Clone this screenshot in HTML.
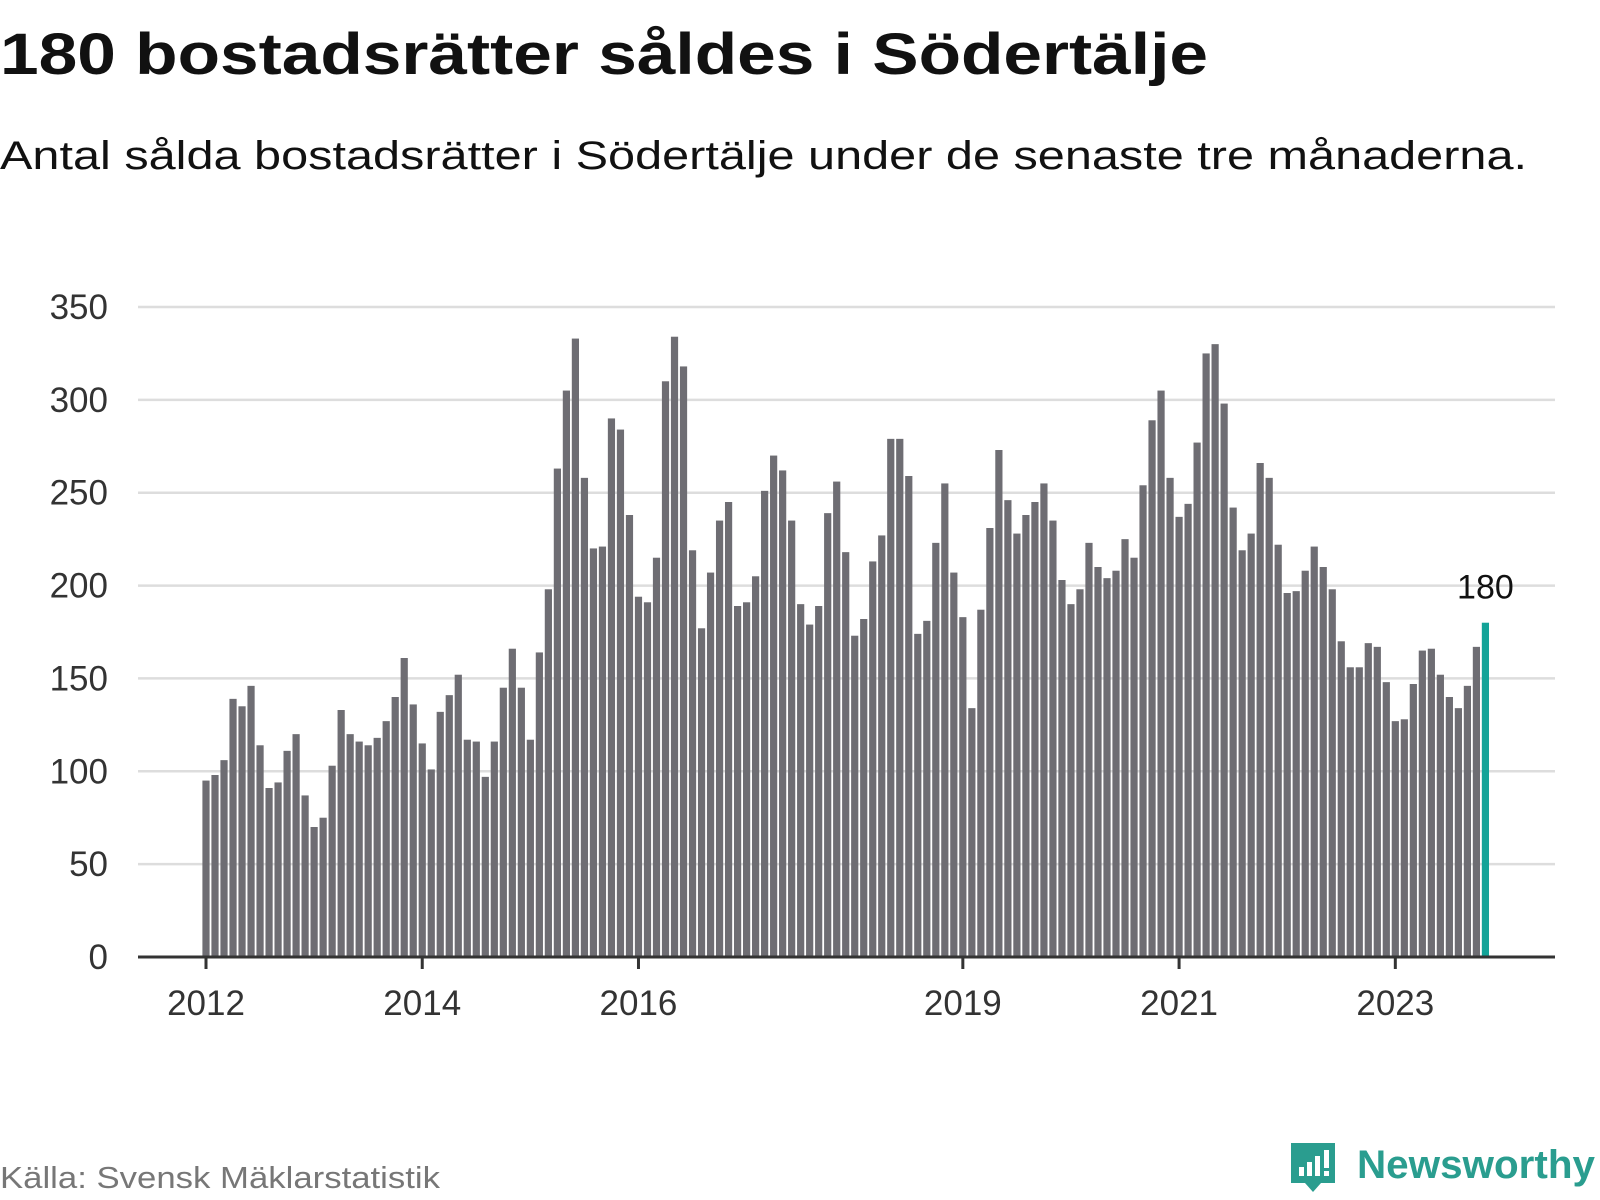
<!DOCTYPE html>
<html><head><meta charset="utf-8"><style>
html,body{margin:0;padding:0;background:#fff;}
svg{display:block;font-family:"Liberation Sans",sans-serif;}
</style></head><body>
<svg id="chart" width="1600" height="1200" viewBox="0 0 1600 1200">
<text x="0" y="74" font-size="58" font-weight="bold" fill="#111" textLength="1208" lengthAdjust="spacingAndGlyphs">180 bostadsrätter såldes i Södertälje</text>
<text x="0" y="169" font-size="40" fill="#111" textLength="1527" lengthAdjust="spacingAndGlyphs">Antal sålda bostadsrätter i Södertälje under de senaste tre månaderna.</text>
<g id="grid"></g><g id="bars"></g><g id="axis"></g>
<text x="0" y="1188" font-size="31" fill="#777" textLength="440" lengthAdjust="spacingAndGlyphs">Källa: Svensk Mäklarstatistik</text>
<g>
<path d="M1291 1143 h44 v40 h-14 l-8 9 l-8 -9 h-14 z" fill="#2a9d8f"/>
<rect x="1299" y="1167" width="5" height="9" fill="#fff"/><rect x="1307" y="1162" width="5" height="14" fill="#fff"/><rect x="1315" y="1156" width="5" height="20" fill="#fff"/><rect x="1324" y="1150" width="5" height="18" fill="#fff"/><rect x="1324" y="1171" width="5" height="5" fill="#fff"/>
<text x="1357" y="1178" font-size="40" font-weight="bold" fill="#2a9d8f" textLength="238" lengthAdjust="spacingAndGlyphs">Newsworthy</text>
</g>
</svg>
<script>
const values = [95,98,106,139,135,146,114,91,94,111,120,87,
70,75,103,133,120,116,114,118,127,140,161,136,
115,101,132,141,152,117,116,97,116,145,166,145,
117,164,198,263,305,333,258,220,221,290,284,238,
194,191,215,310,334,318,219,177,207,235,245,189,
191,205,251,270,262,235,190,179,189,239,256,218,
173,182,213,227,279,279,259,174,181,223,255,207,
183,134,187,231,273,246,228,238,245,255,235,203,
190,198,223,210,204,208,225,215,254,289,305,258,
237,244,277,325,330,298,242,219,228,266,258,222,
196,197,208,221,210,198,170,156,156,169,167,148,
127,128,147,165,166,152,140,134,146,167,180];
const yTicks = [0,50,100,150,200,250,300,350];
const xTickLabels = ["2012","2014","2016","2019","2021","2023"];
const xTickIndex = [0,24,48,84,108,132];
const NS="http://www.w3.org/2000/svg";
const y0=957, yTop=307, x0=206, step=9.01, bw=7.2;
const y = v => y0 - v*(y0-yTop)/350;
const x = i => x0 + i*step;
function mk(tag, attrs, parent){const e=document.createElementNS(NS,tag);for(const k in attrs)e.setAttribute(k,attrs[k]);parent.appendChild(e);return e;}
const grid=document.getElementById('grid'), bars=document.getElementById('bars'), axis=document.getElementById('axis');
yTicks.forEach(t=>{
  if(t>0){const l=mk('line',{x1:138,x2:1555,y1:y(t),y2:y(t),stroke:'#ddd','stroke-width':2.5},grid);
  
  }
  const tx=mk('text',{x:108,y:y(t)+12,'text-anchor':'end','font-size':35,fill:'#333'},grid);
  tx.textContent=t;
  
  
});
values.forEach((v,i)=>{
  const last=i===values.length-1;
  const r=mk('rect',{x:x(i)-bw/2,y:y(v),width:bw,height:y0-y(v),fill:last?'#13a398':'#6e6d73'},bars);
  
  
});
const li=values.length-1;
const lbl=mk('text',{x:x(li),y:y(values[li])-24,'text-anchor':'middle','font-size':34,fill:'#111'},bars);
lbl.textContent=values[li];


const ax=mk('line',{x1:138,x2:1555,y1:y0,y2:y0,stroke:'#333','stroke-width':3},axis);


xTickIndex.forEach((idx,k)=>{
  const tk=mk('line',{x1:x(idx),x2:x(idx),y1:y0,y2:y0+12,stroke:'#333','stroke-width':3},axis);
  
  
  const t=mk('text',{x:x(idx),y:1015,'text-anchor':'middle','font-size':35,fill:'#333'},axis);
  t.textContent=xTickLabels[k];
  
  
});
</script>
</body></html>
